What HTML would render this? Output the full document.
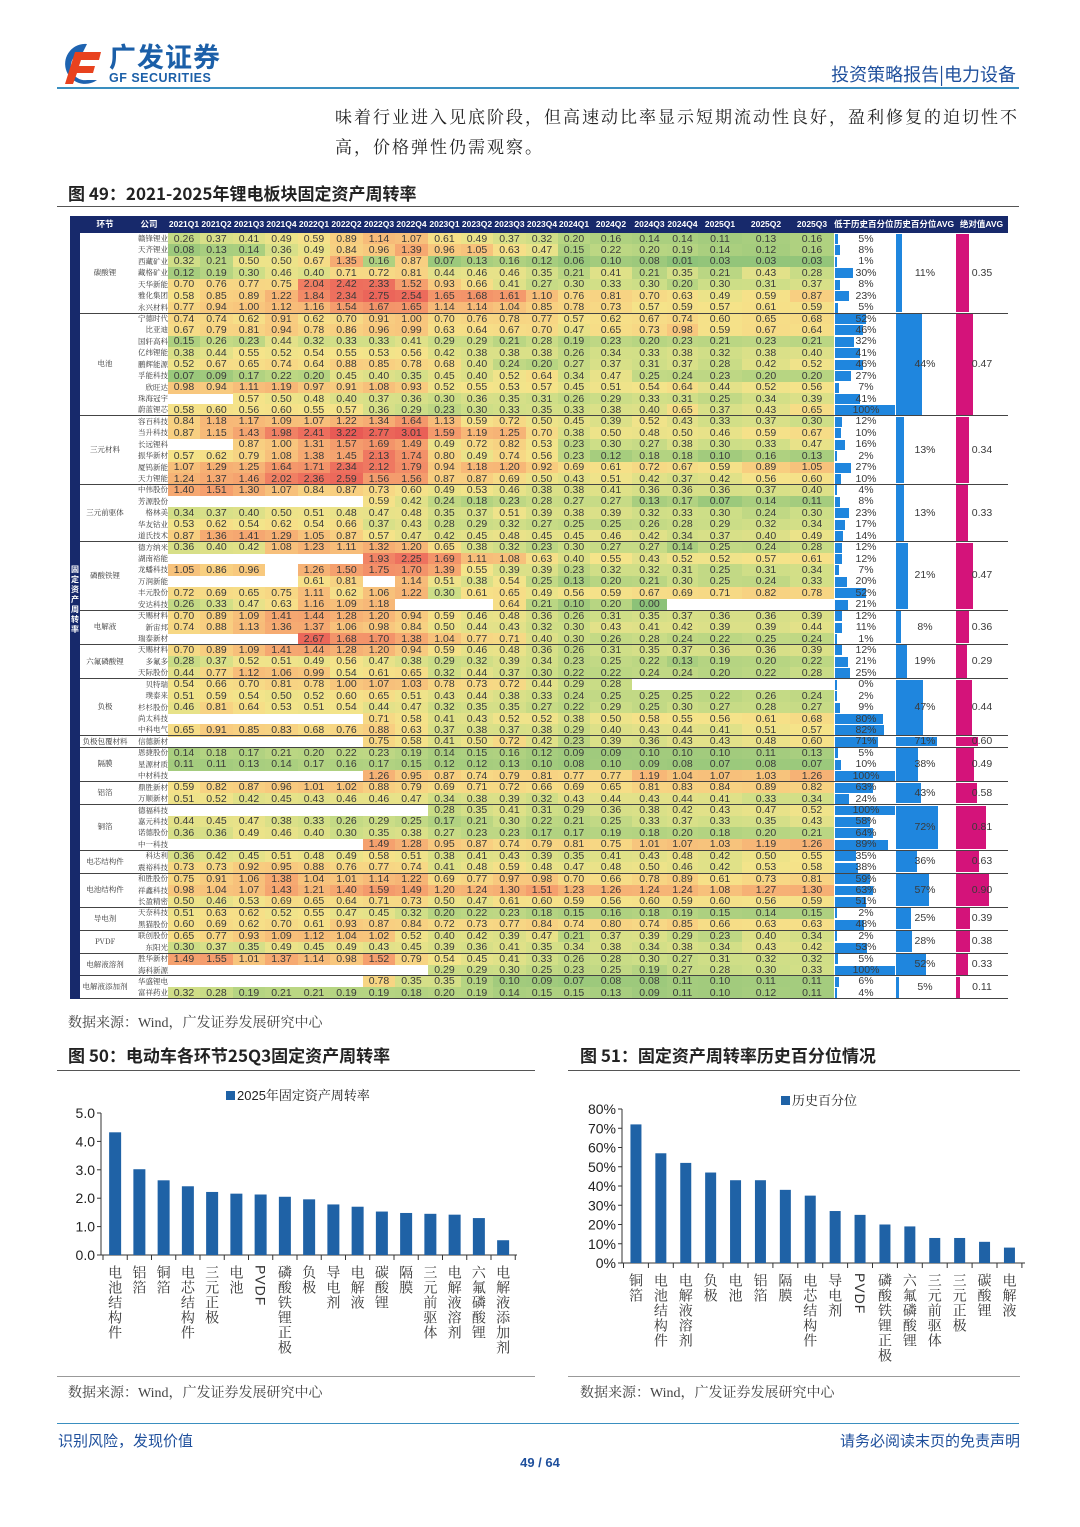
<!DOCTYPE html>
<html><head><meta charset="utf-8">
<style>
*{margin:0;padding:0;box-sizing:border-box}
body{width:1080px;height:1527px;background:#fff;font-family:"Liberation Sans","Noto Sans CJK SC",sans-serif;position:relative;overflow:hidden}
.abs{position:absolute}
.serif{font-family:"Liberation Serif","Noto Serif CJK SC",serif}
.cell{position:absolute;font-size:10.5px;color:#3a3a3a;text-align:center;line-height:11px;white-space:nowrap}
.hd{position:absolute;top:216px;height:17px;line-height:17px;color:#fff;font-size:8.5px;font-weight:bold;text-align:center;white-space:nowrap;overflow:hidden}
.co{position:absolute;font-size:7.5px;color:#333;text-align:right;width:42px;line-height:11px;font-family:"Noto Serif CJK SC",serif}
</style></head>
<body>
<div class="abs" style="left:57px;top:40px;width:170px;height:48px">
<svg width="46" height="46" viewBox="0 0 46 46" class="abs" style="left:0;top:0">
<path d="M30 4 A20 20 0 1 0 40 40 L30 40 A12 12 0 1 1 26 12 Z" fill="#1e63b0"/>
<path d="M18 12 L44 12 L42 20 L24 20 L22 26 L38 26 L36 33 L20 33 L16 44 L8 44 Z" fill="#e8421e"/>
</svg>
<div class="abs" style="left:52px;top:0;font-size:27px;font-weight:bold;color:#1b5fa8;letter-spacing:1px;font-family:'Noto Sans CJK SC',sans-serif;line-height:32px">广发证券</div>
<div class="abs" style="left:52px;top:31px;font-size:12.5px;font-weight:bold;color:#1b5fa8;letter-spacing:0.5px">GF SECURITIES</div>
</div>
<div class="abs" style="right:64px;top:61px;font-size:18px;color:#1e4f9c;font-family:'Noto Sans CJK SC',sans-serif">投资策略报告|电力设备</div>
<div class="abs" style="left:57px;top:87px;width:962px;height:2px;background:#3a8fc0"></div>

<div class="abs serif" style="left:335px;top:103px;white-space:nowrap;font-size:17px;letter-spacing:2px;line-height:30px;color:#222">味着行业进入见底阶段，但高速动比率显示短期流动性良好，盈利修复的迫切性不<br>高，价格弹性仍需观察。</div>

<div class="abs" style="left:68px;top:180px;font-size:17px;font-weight:bold;color:#222;font-family:'Noto Sans CJK SC',sans-serif">图 49：2021-2025年锂电板块固定资产周转率</div>
<div class="abs" style="left:57px;top:206px;width:962px;height:1px;background:#555"></div>

<div id="table"></div>

<div class="abs serif" style="left:68px;top:1012px;font-size:14px;color:#444">数据来源：Wind，广发证券发展研究中心</div>

<div class="abs" style="left:68px;top:1042px;font-size:17px;font-weight:bold;color:#222;font-family:'Noto Sans CJK SC',sans-serif">图 50：电动车各环节25Q3固定资产周转率</div>
<div class="abs" style="left:580px;top:1042px;font-size:17px;font-weight:bold;color:#222;font-family:'Noto Sans CJK SC',sans-serif">图 51：固定资产周转率历史百分位情况</div>
<div class="abs" style="left:57px;top:1070px;width:478px;height:1px;background:#555"></div>
<div class="abs" style="left:568px;top:1070px;width:452px;height:1px;background:#555"></div>

<svg id="charts" class="abs" style="left:0;top:0" width="1080" height="1527"></svg>

<div class="abs" style="left:57px;top:1376px;width:478px;height:1px;background:#999"></div>
<div class="abs" style="left:568px;top:1376px;width:452px;height:1px;background:#999"></div>
<div class="abs serif" style="left:68px;top:1382px;font-size:14px;color:#444">数据来源：Wind，广发证券发展研究中心</div>
<div class="abs serif" style="left:580px;top:1382px;font-size:14px;color:#444">数据来源：Wind，广发证券发展研究中心</div>

<div class="abs" style="left:57px;top:1423px;width:962px;height:1px;background:#3a8fc0"></div>
<div class="abs" style="left:58px;top:1430px;font-size:15px;color:#1e4f9c;font-family:'Noto Sans CJK SC',sans-serif">识别风险，发现价值</div>
<div class="abs" style="right:60px;top:1430px;font-size:15px;color:#1e4f9c;font-family:'Noto Sans CJK SC',sans-serif">请务必阅读末页的免责声明</div>
<div class="abs" style="left:0;width:1080px;text-align:center;top:1455px;font-size:13px;font-weight:bold;color:#1e4f9c">49 / 64</div>

<script>
// ---------- table data ----------
const quarters = ["2021Q1","2021Q2","2021Q3","2021Q4","2022Q1","2022Q2","2022Q3","2022Q4","2023Q1","2023Q2","2023Q3","2023Q4","2024Q1","2024Q2","2024Q3","2024Q4","2025Q1","2025Q2","2025Q3"];
const groupNames = ["碳酸锂","电池","三元材料","三元前驱体","磷酸铁锂","电解液","六氟磷酸锂","负极","负极包覆材料","隔膜","铝箔","铜箔","电芯结构件","电池结构件","导电剂","PVDF","电解液溶剂","电解液添加剂"];
const groupSizes = [7,9,6,5,6,3,3,5,1,3,2,4,2,3,2,2,2,2];
const groupPctAvg = [11,44,13,13,21,8,19,47,71,38,43,72,36,57,25,28,52,5];
const groupAbsAvg = [0.35,0.47,0.34,0.33,0.47,0.36,0.29,0.44,0.60,0.49,0.58,0.81,0.63,0.90,0.39,0.38,0.33,0.11];
const companies = ["赣锋锂业","天齐锂业","西藏矿业","藏格矿业","天华新能","雅化集团","永兴材料",
"宁德时代","比亚迪","国轩高科","亿纬锂能","鹏辉能源","孚能科技","欣旺达","珠海冠宇","蔚蓝锂芯",
"容百科技","当升科技","长远锂科","振华新材","厦钨新能","天力锂能",
"中伟股份","芳源股份","格林美","华友钴业","道氏技术",
"德方纳米","湖南裕能","龙蟠科技","万润新能","丰元股份","安达科技",
"天赐材料","新宙邦","瑞泰新材",
"天赐材料","多氟多","天际股份",
"贝特瑞","璞泰来","杉杉股份","尚太科技","中科电气",
"信德新材",
"恩捷股份","星源材质","中材科技",
"鼎胜新材","万顺新材",
"德福科技","嘉元科技","诺德股份","中一科技",
"科达利","震裕科技",
"和胜股份","祥鑫科技","长盈精密",
"天奈科技","黑猫股份",
"联创股份","东阳光",
"胜华新材","海科新源",
"华盛锂电","富祥药业"];
const _ = null;
const values = [
[0.26,0.37,0.41,0.49,0.59,0.89,1.14,1.07,0.61,0.49,0.37,0.32,0.20,0.16,0.14,0.14,0.11,0.13,0.16],
[0.08,0.13,0.14,0.36,0.49,0.84,0.96,1.39,0.96,1.05,0.63,0.47,0.15,0.22,0.20,0.19,0.14,0.12,0.16],
[0.32,0.21,0.50,0.50,0.67,1.35,0.16,0.87,0.07,0.13,0.16,0.12,0.06,0.10,0.08,0.01,0.03,0.03,0.03],
[0.12,0.19,0.30,0.46,0.40,0.71,0.72,0.81,0.44,0.46,0.46,0.35,0.21,0.41,0.21,0.35,0.21,0.43,0.28],
[0.70,0.76,0.77,0.75,2.04,2.42,2.33,1.52,0.93,0.66,0.41,0.27,0.30,0.33,0.30,0.20,0.30,0.31,0.37],
[0.58,0.85,0.89,1.22,1.84,2.34,2.75,2.54,1.65,1.68,1.61,1.10,0.76,0.81,0.70,0.63,0.49,0.59,0.87],
[0.77,0.94,1.00,1.12,1.16,1.54,1.67,1.65,1.14,1.14,1.04,0.85,0.78,0.73,0.57,0.59,0.57,0.61,0.59],
[0.74,0.74,0.62,0.91,0.62,0.70,0.91,1.00,0.70,0.76,0.78,0.77,0.57,0.62,0.67,0.74,0.60,0.65,0.68],
[0.67,0.79,0.81,0.94,0.78,0.86,0.96,0.99,0.63,0.64,0.67,0.70,0.47,0.65,0.73,0.98,0.59,0.67,0.64],
[0.15,0.26,0.23,0.44,0.32,0.33,0.33,0.41,0.29,0.29,0.21,0.28,0.19,0.23,0.20,0.23,0.21,0.23,0.21],
[0.38,0.44,0.55,0.52,0.54,0.55,0.53,0.56,0.42,0.38,0.38,0.38,0.26,0.34,0.33,0.38,0.32,0.38,0.40],
[0.52,0.67,0.65,0.74,0.64,0.88,0.85,0.78,0.68,0.40,0.24,0.20,0.27,0.37,0.31,0.37,0.28,0.42,0.52],
[0.07,0.09,0.17,0.22,0.20,0.45,0.40,0.35,0.45,0.40,0.52,0.64,0.34,0.47,0.25,0.24,0.23,0.20,0.20],
[0.98,0.94,1.11,1.19,0.97,0.91,1.08,0.93,0.52,0.55,0.53,0.57,0.45,0.51,0.54,0.64,0.44,0.52,0.56],
[_,_,0.57,0.50,0.48,0.40,0.37,0.36,0.30,0.36,0.35,0.31,0.26,0.29,0.33,0.31,0.25,0.34,0.39],
[0.58,0.60,0.56,0.60,0.55,0.57,0.36,0.29,0.23,0.30,0.33,0.35,0.33,0.38,0.40,0.65,0.37,0.43,0.65],
[0.84,1.18,1.17,1.09,1.07,1.22,1.34,1.64,1.13,0.59,0.72,0.50,0.45,0.39,0.52,0.43,0.33,0.37,0.30],
[0.87,1.15,1.43,1.98,2.41,3.22,2.77,3.01,1.59,1.19,1.25,0.70,0.38,0.50,0.48,0.50,0.46,0.59,0.67],
[_,_,0.87,1.00,1.31,1.57,1.69,1.49,0.49,0.72,0.82,0.53,0.23,0.30,0.27,0.38,0.30,0.33,0.47],
[0.57,0.62,0.79,1.08,1.38,1.45,2.13,1.74,0.80,0.49,0.74,0.56,0.23,0.12,0.18,0.18,0.10,0.16,0.13],
[1.07,1.29,1.25,1.64,1.71,2.34,2.12,1.79,0.94,1.18,1.20,0.92,0.69,0.61,0.72,0.67,0.59,0.89,1.05],
[1.24,1.37,1.46,2.02,2.36,2.59,1.56,1.56,0.87,0.87,0.69,0.50,0.43,0.51,0.42,0.37,0.42,0.56,0.60],
[1.40,1.51,1.30,1.07,0.84,0.87,0.73,0.60,0.49,0.53,0.46,0.38,0.38,0.41,0.36,0.36,0.36,0.37,0.40],
[_,_,_,_,_,_,0.59,0.42,0.24,0.18,0.23,0.28,0.27,0.27,0.13,0.17,0.07,0.14,0.11],
[0.34,0.37,0.40,0.50,0.51,0.48,0.47,0.48,0.35,0.37,0.51,0.39,0.38,0.39,0.32,0.33,0.30,0.24,0.30],
[0.53,0.62,0.54,0.62,0.54,0.66,0.37,0.43,0.28,0.29,0.32,0.27,0.25,0.25,0.26,0.28,0.29,0.32,0.34],
[0.87,1.36,1.41,1.29,1.05,0.87,0.57,0.47,0.42,0.45,0.48,0.45,0.45,0.46,0.42,0.34,0.37,0.40,0.49],
[0.36,0.40,0.42,1.08,1.23,1.11,1.32,1.20,0.65,0.38,0.32,0.23,0.30,0.27,0.27,0.14,0.25,0.24,0.28],
[_,_,_,_,_,_,1.93,2.25,1.69,1.11,1.08,0.63,0.40,0.55,0.43,0.52,0.52,0.57,0.61],
[1.05,0.86,0.96,_,1.26,1.50,1.75,1.70,1.39,0.55,0.39,0.39,0.23,0.32,0.32,0.31,0.25,0.31,0.34],
[_,_,_,_,0.61,0.81,_,1.14,0.51,0.38,0.54,0.25,0.13,0.20,0.21,0.30,0.25,0.24,0.33],
[0.72,0.69,0.65,0.75,1.11,0.62,1.06,1.22,0.30,0.61,0.65,0.49,0.56,0.59,0.67,0.69,0.71,0.82,0.78],
[0.26,0.33,0.47,0.63,1.16,1.09,1.18,_,_,_,0.64,0.21,0.10,0.20,0.00,_,_,_,_],
[0.70,0.89,1.09,1.41,1.44,1.28,1.20,0.94,0.59,0.46,0.48,0.36,0.26,0.31,0.35,0.37,0.36,0.36,0.39],
[0.74,0.88,1.13,1.36,1.37,1.06,0.98,0.84,0.50,0.44,0.43,0.32,0.30,0.43,0.41,0.42,0.39,0.39,0.44],
[_,_,_,_,2.67,1.68,1.70,1.38,1.04,0.77,0.71,0.40,0.30,0.26,0.28,0.24,0.22,0.25,0.24],
[0.70,0.89,1.09,1.41,1.44,1.28,1.20,0.94,0.59,0.46,0.48,0.36,0.26,0.31,0.35,0.37,0.36,0.36,0.39],
[0.28,0.37,0.52,0.51,0.49,0.56,0.47,0.38,0.29,0.32,0.39,0.34,0.23,0.25,0.22,0.13,0.19,0.20,0.22],
[0.44,0.77,1.12,1.06,0.99,0.54,0.61,0.65,0.32,0.44,0.37,0.30,0.22,0.22,0.24,0.24,0.20,0.22,0.28],
[0.54,0.66,0.70,0.81,0.78,1.00,1.07,1.03,0.78,0.73,0.72,0.44,0.29,0.28,_,_,_,_,_],
[0.51,0.59,0.54,0.50,0.52,0.60,0.65,0.51,0.43,0.44,0.38,0.33,0.24,0.25,0.25,0.25,0.22,0.26,0.24],
[0.46,0.81,0.64,0.53,0.51,0.54,0.44,0.47,0.32,0.35,0.35,0.27,0.22,0.29,0.25,0.30,0.27,0.28,0.27],
[_,_,_,_,_,_,0.71,0.58,0.41,0.43,0.52,0.52,0.38,0.50,0.58,0.55,0.56,0.61,0.68],
[0.65,0.91,0.85,0.83,0.68,0.76,0.88,0.63,0.37,0.38,0.37,0.38,0.29,0.40,0.43,0.44,0.41,0.51,0.57],
[_,_,_,_,_,_,0.75,0.58,0.41,0.50,0.72,0.42,0.23,0.39,0.36,0.43,0.43,0.48,0.60],
[0.14,0.18,0.17,0.21,0.20,0.22,0.23,0.19,0.14,0.15,0.16,0.12,0.09,0.09,0.10,0.10,0.10,0.11,0.13],
[0.11,0.11,0.13,0.14,0.17,0.16,0.17,0.15,0.12,0.12,0.13,0.10,0.08,0.10,0.09,0.08,0.07,0.08,0.07],
[_,_,_,_,_,_,1.26,0.95,0.87,0.74,0.79,0.81,0.77,0.77,1.19,1.04,1.07,1.03,1.26],
[0.59,0.82,0.87,0.96,1.01,1.02,0.88,0.79,0.69,0.71,0.72,0.66,0.69,0.65,0.81,0.83,0.84,0.89,0.82],
[0.51,0.52,0.42,0.45,0.43,0.46,0.46,0.47,0.34,0.38,0.39,0.32,0.43,0.44,0.43,0.44,0.41,0.33,0.34],
[_,_,_,_,_,_,_,_,0.28,0.35,0.41,0.31,0.29,0.36,0.38,0.42,0.43,0.47,0.52],
[0.44,0.45,0.47,0.38,0.33,0.26,0.29,0.25,0.17,0.21,0.30,0.22,0.21,0.25,0.33,0.37,0.33,0.35,0.43],
[0.36,0.36,0.49,0.46,0.40,0.30,0.35,0.38,0.27,0.23,0.23,0.17,0.17,0.19,0.18,0.20,0.18,0.20,0.21],
[_,_,_,_,_,_,1.49,1.28,0.95,0.87,0.74,0.79,0.81,0.75,1.01,1.07,1.03,1.19,1.26],
[0.36,0.42,0.45,0.51,0.48,0.49,0.58,0.51,0.38,0.41,0.43,0.39,0.35,0.41,0.43,0.48,0.42,0.50,0.55],
[0.73,0.73,0.92,0.95,0.88,0.76,0.77,0.74,0.41,0.48,0.59,0.48,0.47,0.48,0.50,0.46,0.42,0.53,0.58],
[0.75,0.91,1.06,1.38,1.04,1.01,1.14,1.22,0.69,0.77,0.97,0.98,0.70,0.66,0.78,0.89,0.61,0.73,0.81],
[0.98,1.04,1.07,1.43,1.21,1.40,1.59,1.49,1.20,1.24,1.30,1.51,1.23,1.26,1.24,1.24,1.08,1.27,1.30],
[0.50,0.46,0.53,0.69,0.65,0.64,0.71,0.73,0.50,0.47,0.61,0.60,0.59,0.56,0.60,0.59,0.60,0.56,0.59],
[0.51,0.63,0.62,0.52,0.55,0.47,0.45,0.32,0.20,0.22,0.23,0.18,0.15,0.16,0.18,0.19,0.15,0.14,0.15],
[0.60,0.69,0.62,0.70,0.61,0.93,0.87,0.84,0.72,0.73,0.77,0.84,0.74,0.80,0.74,0.85,0.66,0.63,0.63],
[0.65,0.77,0.93,1.09,1.12,1.04,1.02,0.52,0.40,0.42,0.39,0.47,0.21,0.37,0.39,0.29,0.23,0.40,0.34],
[0.30,0.37,0.35,0.49,0.45,0.49,0.43,0.45,0.39,0.36,0.41,0.35,0.34,0.38,0.34,0.38,0.34,0.43,0.42],
[1.49,1.55,1.01,1.37,1.14,0.98,1.52,0.79,0.54,0.45,0.41,0.33,0.26,0.28,0.30,0.27,0.31,0.32,0.32],
[_,_,_,_,_,_,_,_,0.29,0.29,0.30,0.25,0.23,0.25,0.19,0.27,0.28,0.30,0.33],
[_,_,_,_,_,_,0.78,0.35,0.35,0.19,0.10,0.09,0.07,0.08,0.08,0.11,0.10,0.11,0.11],
[0.32,0.28,0.19,0.21,0.21,0.19,0.19,0.18,0.20,0.19,0.14,0.15,0.15,0.13,0.09,0.11,0.10,0.12,0.11]
];
const pctRank = [5,8,1,30,8,23,5, 52,46,32,41,46,27,7,41,100, 12,10,16,2,27,10, 4,8,23,17,14, 12,12,7,20,52,21, 12,11,1, 12,21,25, 0,2,9,80,82, 71, 5,10,100, 63,24, 100,58,64,89, 35,38, 59,63,51, 2,48, 2,53, 5,100, 6,4];

// ---------- table rendering ----------
const T = document.getElementById('table');
const colEdges = [168,200,233,265,298,330,363,395,428,461,493,526,558,590,632,667,698,742,790,834];
const TOP = 233, ROWH = 11.43, BOTTOM = TOP + ROWH*values.length;
function heat(v){
  const stops=[[0,[140,194,120]],[0.3,[205,222,135]],[0.55,[245,228,138]],[0.9,[248,205,128]],[1.5,[245,160,110]],[2.2,[238,115,95]],[3.2,[232,90,85]]];
  if(v>=stops[stops.length-1][0]) return 'rgb('+stops[stops.length-1][1]+')';
  for(let i=0;i<stops.length-1;i++){const a=stops[i],b=stops[i+1];if(v<=b[0]){const t=(v-a[0])/(b[0]-a[0]);return 'rgb('+a[1].map((c,k)=>Math.round(c+(b[1][k]-c)*t)).join(',')+')';}}
}
function box(l,t,w,h,bg){const d=document.createElement('div');d.className='abs';d.style.cssText=`left:${l}px;top:${t}px;width:${w}px;height:${h}px;background:${bg}`;T.appendChild(d);return d;}
const hb = box(70,216,938,17,'#17296b');


const ls = box(70,233,10,BOTTOM-233,'#17296b');


const sideTxt=document.createElement('div');sideTxt.className='abs';


sideTxt.style.cssText='left:70px;top:565px;width:10px;font-size:8px;color:#fff;line-height:10px;text-align:center;font-weight:bold';
sideTxt.innerHTML='固<br>定<br>资<br>产<br>周<br>转<br>率';T.appendChild(sideTxt);
function hdr(txt,l,w,name){const d=document.createElement('div');d.className='hd';d.style.left=l+'px';d.style.width=w+'px';d.textContent=txt;


T.appendChild(d);}
hdr('环节',80,50,'header-segment');hdr('公司',130,38,'header-company');
quarters.forEach((q,i)=>hdr(q,colEdges[i],colEdges[i+1]-colEdges[i],'header-quarter'));
hdr('低于历史百分位',834,59,'header-percentile');hdr('历史百分位AVG',893,62,'header-pct-avg');hdr('绝对值AVG',955,53,'header-abs-avg');
values.forEach((row,r)=>{
  const y=TOP+r*ROWH;
  const cn=document.createElement('div');cn.className='co';cn.style.left='126px';cn.style.top=y+'px';cn.textContent=companies[r];
  
  
  T.appendChild(cn);
  row.forEach((v,c)=>{
    if(v===null) return;
    const l=colEdges[c],w=colEdges[c+1]-l;
    const d=box(l,y,w,ROWH+0.6,heat(v));
    
    
    const t=document.createElement('div');t.className='cell';t.style.cssText=`left:${l}px;top:${y+0.5}px;width:${w}px`;t.textContent=v.toFixed(2);
    
    
    T.appendChild(t);
  });
  const p=pctRank[r];
  const b=box(835,y+1,Math.max(1.5,p/100*60),ROWH-1.5,'#1f86de');
  
  
  const pt=document.createElement('div');pt.className='cell';pt.style.cssText=`left:846px;top:${y+0.5}px;width:40px`;pt.textContent=p+'%';
  
  
  T.appendChild(pt);
});
let start=0;
groupNames.forEach((g,i)=>{
  const y0=TOP+start*ROWH, h=groupSizes[i]*ROWH;
  const gl=document.createElement('div');gl.className='abs';gl.style.cssText=`left:80px;top:${y0+h/2-6}px;width:50px;text-align:center;font-size:7.5px;color:#333;line-height:12px;font-family:"Noto Serif CJK SC",serif`;gl.textContent=g;
  
  
  T.appendChild(gl);
  const ab=box(896,y0+1,groupPctAvg[i]/100*58,h-2,'#1f86de');
  
  
  const at=document.createElement('div');at.className='cell';at.style.cssText=`left:896px;top:${y0+h/2-5.5}px;width:58px`;at.textContent=groupPctAvg[i]+'%';
  
  
  T.appendChild(at);
  const mb=box(956,y0+1,groupAbsAvg[i]*37,h-2,'#d4137a');
  
  
  const mt=document.createElement('div');mt.className='cell';mt.style.cssText=`left:956px;top:${y0+h/2-5.5}px;width:52px`;mt.textContent=groupAbsAvg[i].toFixed(2);
  
  
  T.appendChild(mt);
  start+=groupSizes[i];
  const ln=box(80,TOP+start*ROWH-0.5,928,1,'#444');
  
  
});
</script>

<script>
// ---------- chart 50 data ----------
const c50Cats = ["电池结构件","铝箔","铜箔","电芯结构件","三元正极","电池","PVDF","磷酸铁锂正极","负极","导电剂","电解液","碳酸锂","隔膜","三元前驱体","电解液溶剂","六氟磷酸锂","电解液添加剂"];
const c50Vals = [4.32,3.02,2.63,2.42,2.22,2.16,2.13,2.05,1.96,1.78,1.70,1.53,1.48,1.45,1.42,1.30,0.52];
const c50Ticks = [0,1,2,3,4,5];
// ---------- chart 51 data ----------
const c51Cats = ["铜箔","电池结构件","电解液溶剂","负极","电池","铝箔","隔膜","电芯结构件","导电剂","PVDF","磷酸铁锂正极","六氟磷酸锂","三元前驱体","三元正极","碳酸锂","电解液"];
const c51Vals = [72,57,52,47,43,43,38,35,27,25,20,19,13,13,11,8];
const c51Ticks = [0,10,20,30,40,50,60,70,80];

const S = document.getElementById('charts');
const NS='http://www.w3.org/2000/svg';
function el(tag,attrs,txt){const e=document.createElementNS(NS,tag);for(const k in attrs)e.setAttribute(k,attrs[k]);if(txt!==undefined)e.textContent=txt;S.appendChild(e);return e;}
const BAR='#1f62a6';
function drawChart(cats,vals,ticks,opt){
  const y=v=>opt.y0-(v-ticks[0])/(ticks[ticks.length-1]-ticks[0])*(opt.y0-opt.y1);
  const x=i=>opt.x0+(i+0.5)*opt.slot;
  const ax=el('line',{x1:opt.axX,y1:opt.y1,x2:opt.axX,y2:opt.y0,stroke:'#333','stroke-width':1});
  
  
  const bx=el('line',{x1:opt.axX,y1:opt.y0,x2:opt.xEnd,y2:opt.y0,stroke:'#333','stroke-width':1});
  
  
  ticks.forEach(t=>{
    el('line',{x1:opt.axX-4,y1:y(t),x2:opt.axX,y2:y(t),stroke:'#333'});
    const tl=el('text',{x:opt.axX-6,y:y(t)+5,'text-anchor':'end','font-size':14,fill:'#222','font-family':'Liberation Sans, sans-serif'},opt.fmt(t));
    
    
  });
  for(let i=0;i<=cats.length;i++) el('line',{x1:opt.x0+i*opt.slot,y1:opt.y0,x2:opt.x0+i*opt.slot,y2:opt.y0+5,stroke:'#333'});
  vals.forEach((v,i)=>{
    const r=el('rect',{x:x(i)-opt.bw/2,y:y(v),width:opt.bw,height:opt.y0-y(v),fill:BAR});
    
    
  });
  cats.forEach((c,i)=>{
    const t=el('text',{x:x(i),y:opt.y0+10,'font-size':14,fill:'#333','font-family':'Liberation Sans, Noto Serif CJK SC, serif',style:'writing-mode:vertical-rl;letter-spacing:1px'},c);
    
    
  });
  const lg=el('rect',{x:opt.lgX,y:opt.lgY-9,width:9,height:9,fill:BAR});
  
  
  const lt=el('text',{x:opt.lgX+11,y:opt.lgY,'font-size':13,fill:'#222','font-family':'Liberation Sans, Noto Serif CJK SC, serif'},opt.legend);
  
  
}
drawChart(c50Cats,c50Vals,c50Ticks,{id:'chart50',x0:103,slot:24.25,bw:12,y0:1255,y1:1113,axX:101,xEnd:517,fmt:t=>t.toFixed(1),lgX:226,lgY:1100,legend:'2025年固定资产周转率'});
drawChart(c51Cats,c51Vals,c51Ticks,{id:'chart51',x0:623.5,slot:24.9,bw:11,y0:1263,y1:1109,axX:622,xEnd:1025,fmt:t=>t+'%',lgX:781,lgY:1105,legend:'历史百分位'});
</script>
</body></html>
